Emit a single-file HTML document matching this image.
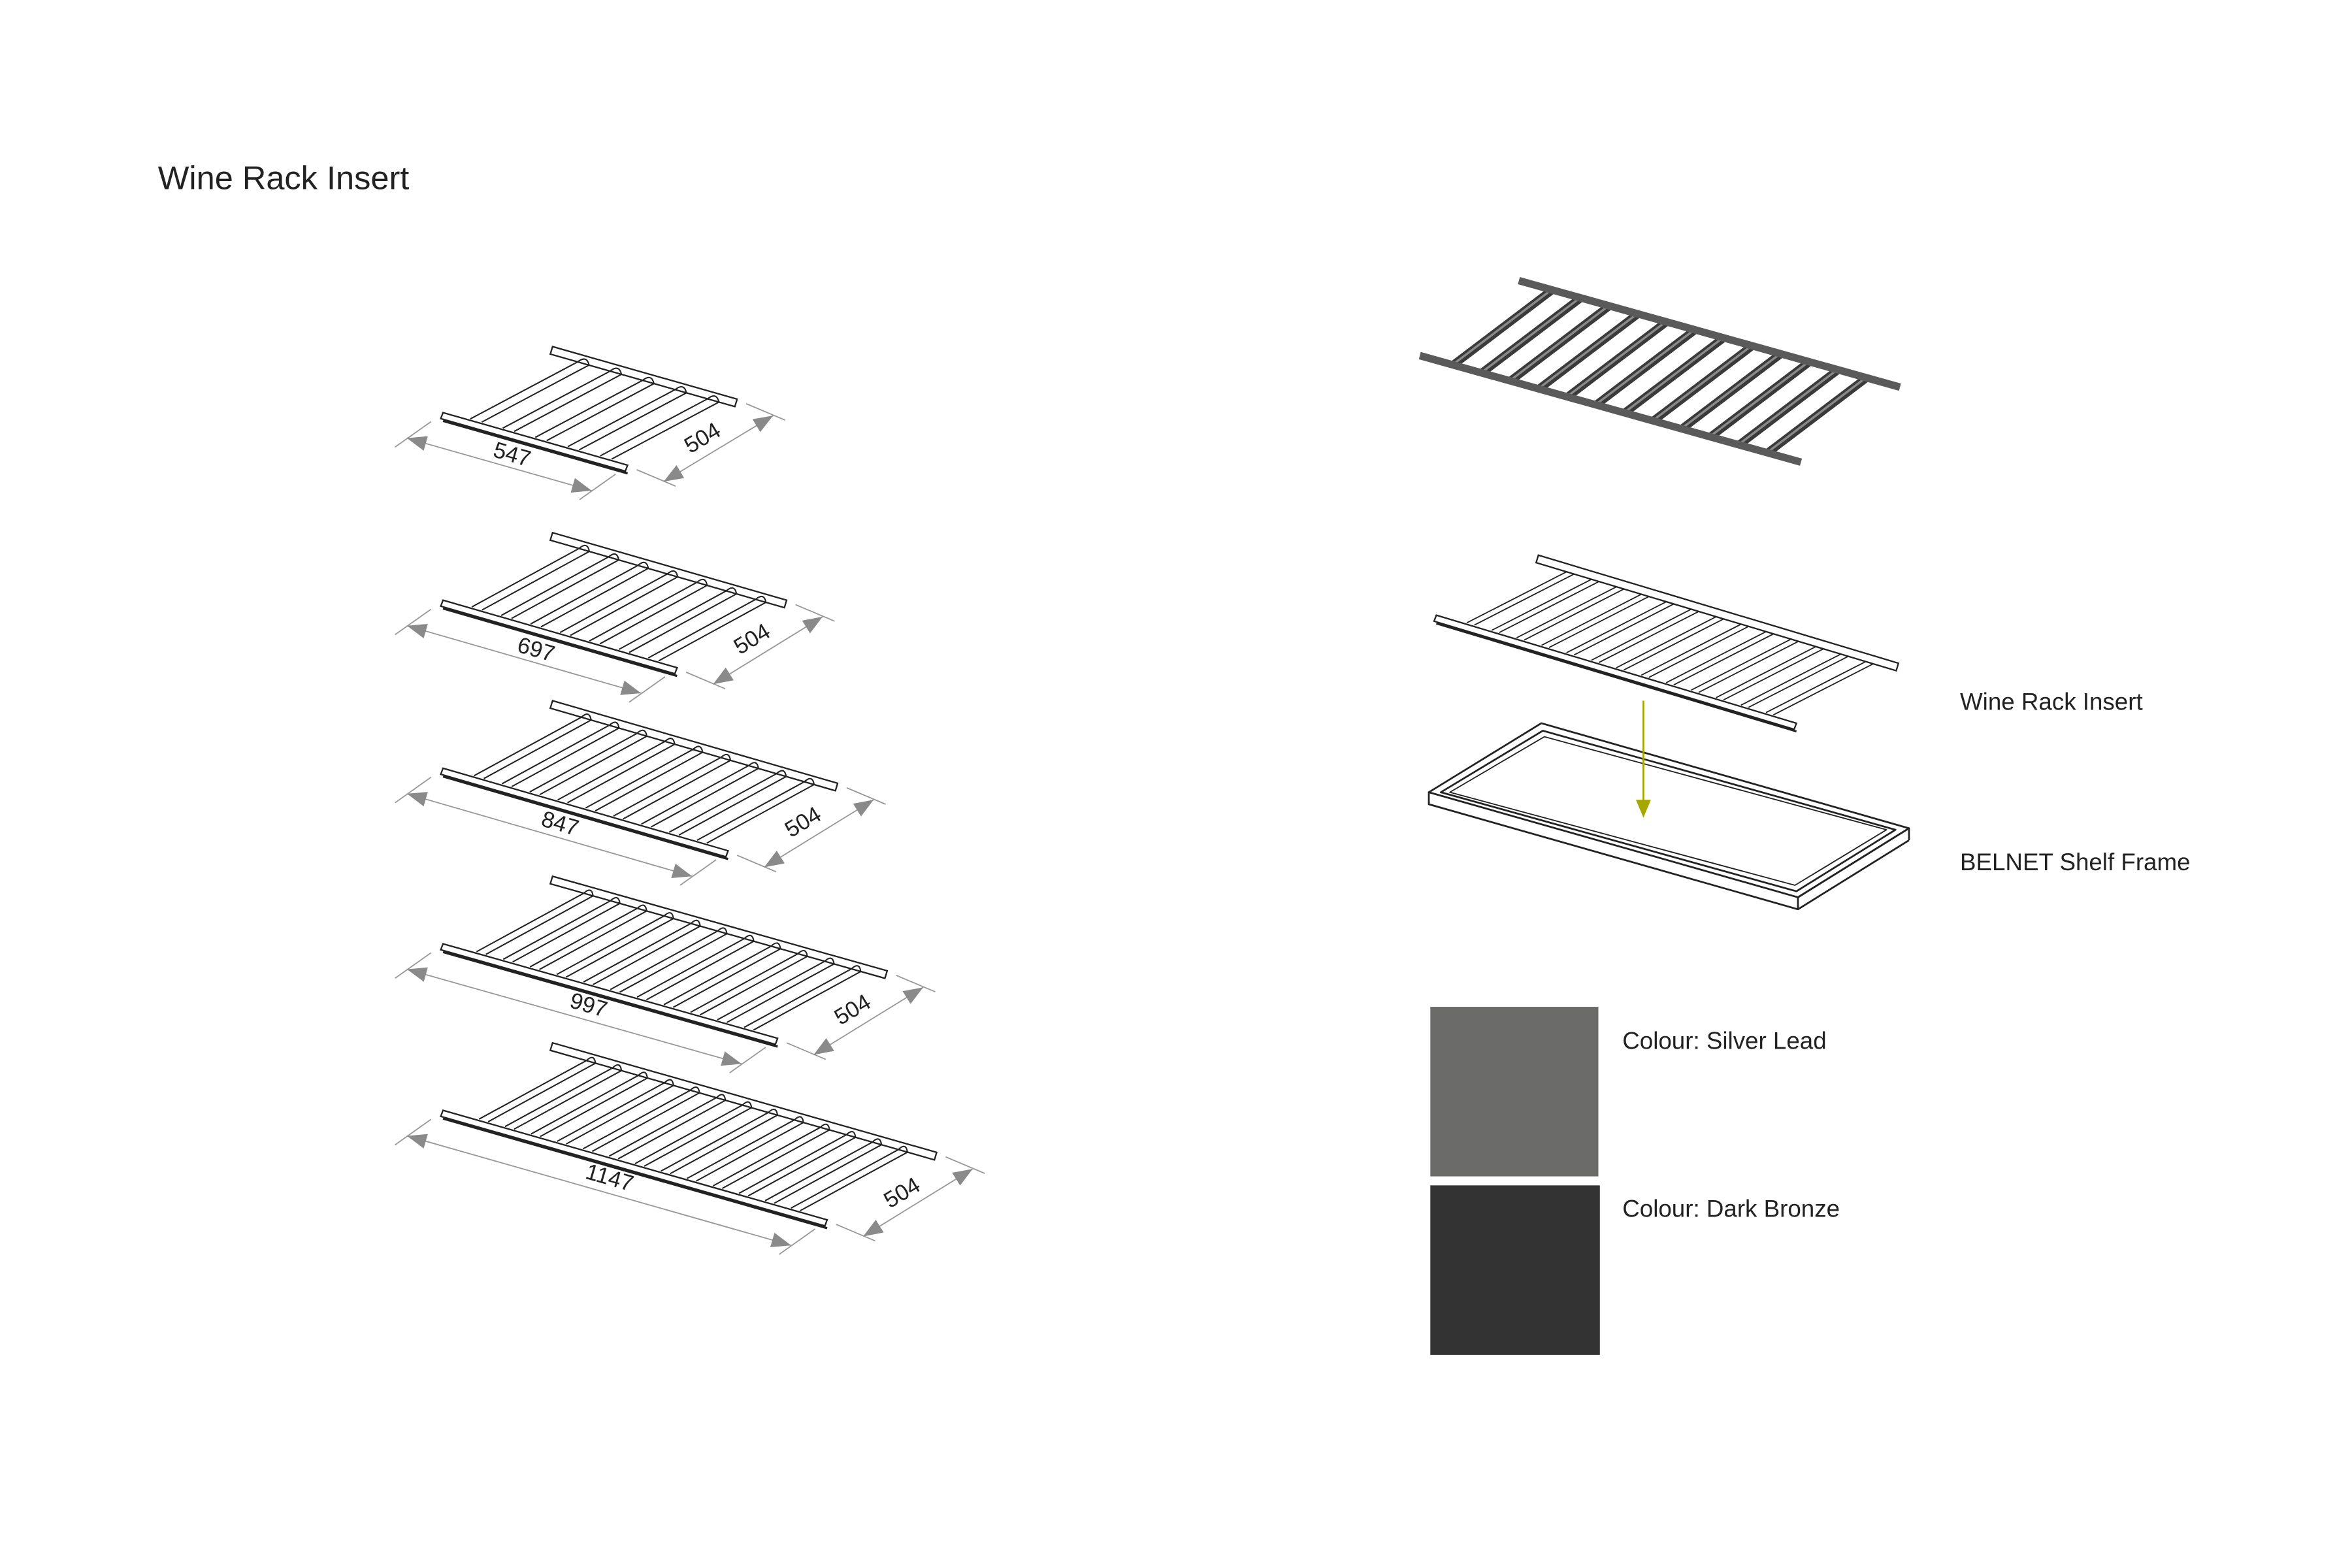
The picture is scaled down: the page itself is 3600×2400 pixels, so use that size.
<!DOCTYPE html>
<html><head><meta charset="utf-8">
<style>
html,body{margin:0;padding:0;background:#fff;}
svg{display:block;}
text{font-family:"Liberation Sans",sans-serif;fill:#222;}
</style></head>
<body>
<svg id="s" width="3600" height="2400" viewBox="0 0 1567 1045" xmlns="http://www.w3.org/2000/svg">
<rect width="1567" height="1045" fill="#fff"/>
<g id="g"></g>
<text x="105" y="126" font-size="22" fill="#222">Wine Rack Insert</text>

<g font-size="15" text-anchor="middle" dominant-baseline="central">
<text transform="translate(341,303) rotate(16)">547</text>
<text transform="translate(468,292) rotate(-31)">504</text>
<text transform="translate(357,433) rotate(16)">697</text>
<text transform="translate(501,426) rotate(-31)">504</text>
<text transform="translate(373,549) rotate(16)">847</text>
<text transform="translate(535,548) rotate(-31)">504</text>
<text transform="translate(392,670) rotate(16)">997</text>
<text transform="translate(568,673) rotate(-31)">504</text>
<text transform="translate(406,785) rotate(16)">1147</text>
<text transform="translate(601,795) rotate(-31)">504</text>
</g>

<g fill="#fff" stroke="#222" stroke-width="1.2" stroke-linejoin="round">
<polygon points="952,528 1027,482 1272,552 1198,598 1198,606 952,536"/>
<line x1="952" y1="528" x2="1198" y2="598"/>
<line x1="1198" y1="598" x2="1272" y2="552"/>
<line x1="1272" y1="552" x2="1272" y2="560"/>
<line x1="1272" y1="560" x2="1198" y2="606"/>
<polygon points="960,528 1028,487 1263,553 1197,594" fill="none"/>
<polygon points="966,528 1029,491 1257,553 1196,590" fill="none" stroke-width="0.8"/>
</g>
<line x1="1095" y1="467" x2="1095" y2="535" stroke="#a5a800" stroke-width="1.2"/>
<polygon points="1090,533 1100,533 1095,545" fill="#a5a800"/>

<text x="1306" y="473" font-size="16">Wine Rack Insert</text>
<text x="1306" y="580" font-size="16">BELNET Shelf Frame</text>
<rect x="953" y="671" width="112" height="113" fill="#6b6b69"/>
<rect x="953" y="790" width="113" height="113" fill="#333333"/>
<text x="1081" y="699" font-size="16">Colour: Silver Lead</text>
<text x="1081" y="811" font-size="16">Colour: Dark Bronze</text>
</svg>
<script>
(function(){
var g=document.getElementById('g');var NS='http://www.w3.org/2000/svg';
function el(t,a){var e=document.createElementNS(NS,t);for(var k in a)e.setAttribute(k,a[k]);g.appendChild(e);return e;}
function P(p){return p.map(function(q){return q[0].toFixed(1)+','+q[1].toFixed(1)}).join(' ');}
function add(a,b,s){s=s==null?1:s;return [a[0]+b[0]*s,a[1]+b[1]*s];}
function line(a,b,c,w){el('line',{x1:a[0],y1:a[1],x2:b[0],y2:b[1],stroke:c||'#222','stroke-width':w||1});}
function arrow(tip,dir){var l=Math.hypot(dir[0],dir[1]);var u=[dir[0]/l,dir[1]/l];var n=[-u[1],u[0]];
 var b=add(tip,u,-13);el('polygon',{points:P([tip,add(b,n,5),add(b,n,-5)]),fill:'#8a8a8a'});}
function rack(F,L,D,n){
 var Ll=Math.hypot(L[0],L[1]);var lu=[L[0]/Ll,L[1]/Ll];
 var B=add(F,D);var t=[-1.5,5];
 el('polygon',{points:P([B,add(B,L),add(add(B,L),t),add(B,t)]),fill:'#fff',stroke:'#222','stroke-width':1});
 for(var i=0;i<n;i++){var s=0.06+0.88*(i+0.5)/n;var a=add(F,L,s);var b=add(B,L,s);
  var w=0.35*0.88*Ll/n;
  line(add(a,[0,-1]),add(b,t),'#222',0.9);
  line(add(add(a,lu,w),[0,-1]),add(add(b,lu,w),t),'#222',0.9);
  el('path',{d:'M'+P([add(b,t)])+' Q'+P([add(add(b,lu,w*0.6),[0,-1])])+' '+P([add(add(b,lu,w),t)]),fill:'none',stroke:'#222','stroke-width':0.9});
 }
 var tf=[-1.5,4];
 el('polygon',{points:P([F,add(F,L),add(add(F,L),tf),add(F,tf)]),fill:'#fff',stroke:'#222','stroke-width':1});
 line(add(F,[0,5.5]),add(add(F,L),[0,5.5]),'#222',1.5);
 var o=[-24,17];var p1=add(F,o),p2=add(add(F,L),o);
 line(add(F,[-8,6]),add(F,[-32,23]),'#999',0.8);
 line(add(add(F,L),[-8,6]),add(add(F,L),[-32,23]),'#999',0.8);
 line(p1,p2,'#999',0.8);arrow(p1,[-L[0],-L[1]]);arrow(p2,L);
 var o2=[24,11];var FR=add(F,L),BR=add(B,L);var q1=add(FR,o2),q2=add(BR,o2);
 line(add(FR,[6,3]),add(FR,[32,14]),'#999',0.8);
 line(add(BR,[6,3]),add(BR,[32,14]),'#999',0.8);
 line(q1,q2,'#999',0.8);arrow(q1,[-D[0],-D[1]]);arrow(q2,D);
}
rack([295,275],[123,35],[73,-44],5);
rack([295,400],[156,45],[73,-45],7);
rack([295,512],[190,55],[73,-45],9);
rack([295,629],[223,63],[73,-45],11);
rack([295,740],[256,73],[73,-45],13);
(function(){
 var F=[957,410],L=[240,72],D=[68,-40],n=13,B=add(F,D),t=[-1.5,5];
 var Ll=Math.hypot(L[0],L[1]);var lu=[L[0]/Ll,L[1]/Ll];
 el('polygon',{points:P([B,add(B,L),add(add(B,L),t),add(B,t)]),fill:'#fff',stroke:'#222','stroke-width':1});
 for(var i=0;i<n;i++){var s=0.05+0.9*(i+0.5)/n;var a=add(F,L,s),b=add(B,L,s);var w=0.3*0.9*Ll/n;
  line(add(a,[0,-1]),add(b,t),'#222',0.8);line(add(add(a,lu,w),[0,-1]),add(add(b,lu,w),t),'#222',0.8);}
 el('polygon',{points:P([F,add(F,L),add(add(F,L),[-1.5,4]),add(F,[-1.5,4])]),fill:'#fff',stroke:'#222','stroke-width':1});
 line(add(F,[0,5.5]),add(add(F,L),[0,5.5]),'#222',1.3);
})();
(function(){
 var F=[946,237],L=[254,71],D=[66,-50],n=12;var B=add(F,D);
 for(var i=0;i<n;i++){var s=0.05+0.9*(i+0.5)/n;var a=add(F,L,s),b=add(B,L,s);
  line(a,b,'#3a3a3a',5.5);line(add(a,[0.5,-0.8]),add(b,[0.5,-0.8]),'#8a8a8a',1.5);}
 line(F,add(F,L),'#5a5a5a',5);
 line(B,add(B,L),'#5a5a5a',5);
})();
})();
</script>
</body></html>
